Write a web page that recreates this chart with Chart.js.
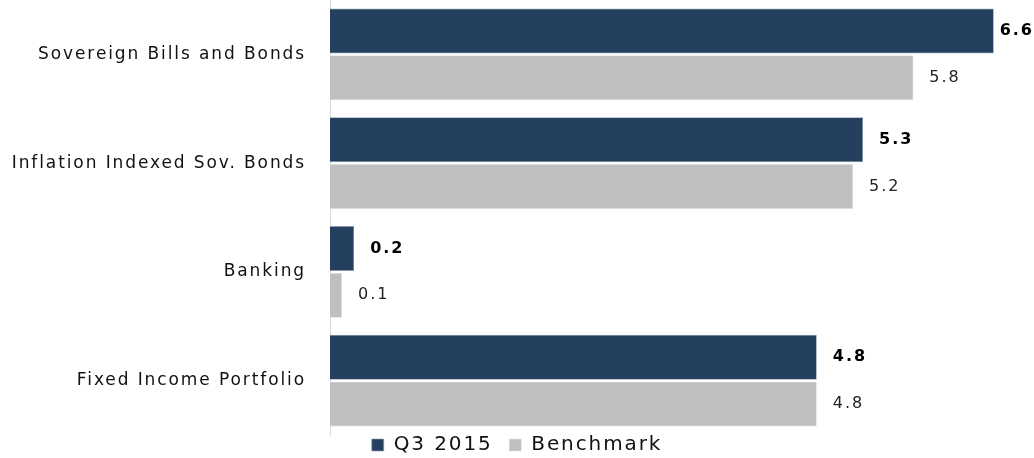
<!DOCTYPE html>
<html>
<head>
<meta charset="utf-8">
<script src="https://cdn.jsdelivr.net/npm/chart.js@4"></script>
<style>
  html, body { margin: 0; padding: 0; background: #fff; overflow: hidden; }
  canvas { display: block; }
</style>
</head>
<body>
<canvas id="chart" width="1034" height="458"></canvas>
<script>
const categories = ['Sovereign Bills and Bonds', 'Inflation Indexed Sov. Bonds', 'Banking', 'Fixed Income Portfolio'];
const q3Values = [6.6, 5.3, 0.24, 4.84];
const benchValues = [5.8, 5.2, 0.12, 4.84];
const seriesNames = ['Q3 2015', 'Benchmark'];

const FONT = "'DejaVu Sans', Verdana, sans-serif";
const SPACING = '1.9px';

// the reference text is spaced out, so widen all canvas text
const spacing = {
  id: 'spacing',
  beforeUpdate(chart) { chart.ctx.letterSpacing = SPACING; },
  beforeLayout(chart) { chart.ctx.letterSpacing = SPACING; },
  beforeDraw(chart) { chart.ctx.letterSpacing = SPACING; }
};

// value labels to the right of each bar, kept inside the canvas
const valueLabels = {
  id: 'valueLabels',
  afterDatasetsDraw(chart) {
    const ctx = chart.ctx;
    ctx.save();
    ctx.letterSpacing = '2px';
    ctx.textBaseline = 'middle';
    ctx.textAlign = 'left';
    chart.data.datasets.forEach((ds, i) => {
      const meta = chart.getDatasetMeta(i);
      ctx.font = (i === 0 ? 'bold ' : '') + '16px ' + FONT;
      ctx.fillStyle = i === 0 ? '#000' : '#222';
      meta.data.forEach((bar, j) => {
        const txt = ds.data[j].toFixed(1);
        const w = ctx.measureText(txt).width;
        let x = bar.x + 16;
        if (x + w > chart.width) x = chart.width - w;
        ctx.fillText(txt, x, bar.y);
      });
    });
    ctx.restore();
  }
};

new Chart(document.getElementById('chart'), {
  type: 'bar',
  data: {
    labels: categories,
    datasets: [
      { label: seriesNames[0], data: q3Values, backgroundColor: '#253f5f', borderColor: '#8fa0b5', borderWidth: 0.6,
        categoryPercentage: 0.86, barPercentage: 0.96 },
      { label: seriesNames[1], data: benchValues, backgroundColor: '#bfbfbf', borderColor: '#e0e0e0', borderWidth: 0.6,
        categoryPercentage: 0.86, barPercentage: 0.96 }
    ]
  },
  options: {
    indexAxis: 'y',
    responsive: false,
    animation: false,
    layout: { padding: { top: 0, right: 0, bottom: -7, left: 0 } },
    scales: {
      x: { display: false, min: 0, max: 7 },
      y: {
        grid: { display: false, drawTicks: false },
        border: { display: true, color: '#d9d9d9', width: 1 },
        ticks: { color: '#111', font: { family: FONT, size: 17 }, padding: 24 },
        afterFit(scale) {
          scale.width = 330;
          scale.paddingTop = 0;
          scale.paddingBottom = 0;
        }
      }
    },
    plugins: {
      legend: {
        position: 'bottom',
        labels: {
          boxWidth: 12, boxHeight: 12, padding: 0, color: '#111', font: { family: FONT, size: 20 },
          generateLabels(chart) {
            const items = Chart.defaults.plugins.legend.labels.generateLabels(chart);
            items[0].text += '  ';
            return items;
          }
        }
      },
      tooltip: { enabled: false }
    }
  },
  plugins: [spacing, valueLabels]
});
</script>
</body>
</html>
